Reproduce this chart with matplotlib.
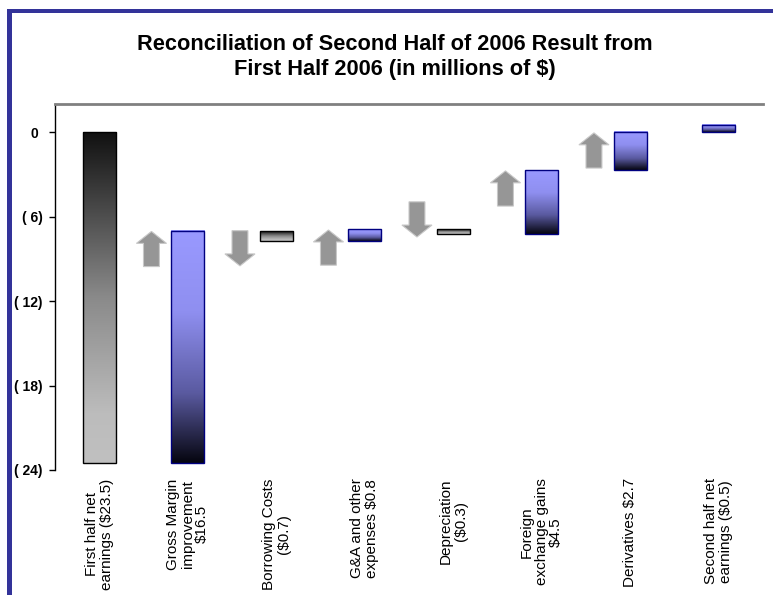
import numpy as np
import matplotlib
matplotlib.use("Agg")
import matplotlib.pyplot as plt
from matplotlib.colors import LinearSegmentedColormap
from matplotlib.patches import Rectangle, Polygon

plt.rcParams['font.family'] = ['Liberation Sans', 'DejaVu Sans']

# ---- data (millions of $) ----
categories = [
    "First half net\nearnings ($23.5)",
    "Gross Margin\nimprovement\n$16.5",
    "Borrowing Costs\n($0.7)",
    "G&A and other\nexpenses $0.8",
    "Depreciation\n($0.3)",
    "Foreign\nexchange gains\n$4.5",
    "Derivatives $2.7",
    "Second half net\nearnings ($0.5)",
]
first_half = -23.5
changes = [16.5, -0.7, 0.8, -0.3, 4.5, 2.7]
second_half_bar = 0.5
ytick_values = [0, -6, -12, -18, -24]
ytick_labels = ["0 ", "( 6)", "( 12)", "( 18)", "( 24)"]

# ---- layout ----
W, H = 773, 595
fig = plt.figure(figsize=(W / 100, H / 100), dpi=100)
ax = fig.add_axes([55 / W, 1 - 470 / H, (763 - 55) / W, (470 - 104) / H])

bar_w = 0.375
blue_cmap = LinearSegmentedColormap.from_list(
    "blue", [(0, "#9999ff"), (0.35, "#8f8ff0"), (0.7, "#5a5aa0"), (1, "#05050f")])
gray_cmap = LinearSegmentedColormap.from_list(
    "gray", [(0, "#111111"), (0.5, "#8a8a8a"), (0.85, "#bcbcbc"), (1, "#c0c0c0")])
grad = np.linspace(0, 1, 256).reshape(-1, 1)


def gradient_bar(x, y0, y1, cmap, edge):
    lo, hi = min(y0, y1), max(y0, y1)
    ax.imshow(grad, cmap=cmap, extent=[x - bar_w / 2, x + bar_w / 2, lo, hi],
              origin="upper", aspect="auto", interpolation="bicubic", zorder=2)
    ax.add_patch(Rectangle((x - bar_w / 2, lo), bar_w, hi - lo, fill=False,
                           edgecolor=edge, linewidth=1.0, zorder=3))


# opening total
gradient_bar(0, 0, first_half, gray_cmap, "black")

# step bars
running = first_half
ends = []
for i, d in enumerate(changes, start=1):
    start, end = running, running + d
    if d >= 0:
        gradient_bar(i, start, end, blue_cmap, "#000080")
    else:
        gradient_bar(i, start, end, gray_cmap, "black")
    ends.append((start, end))
    running = end

# closing bar
gradient_bar(len(categories) - 1, 0, second_half_bar, blue_cmap, "#000080")

# direction arrows beside each step
arrow_dx = -0.41
arrow_len = 2.5
head_len = 0.85
head_w = 0.34
shaft_w = 0.18
arrow_lift = [0, 0, 0, 1.95, 0, 0.0]
for i, ((start, end), d) in enumerate(zip(ends, changes), start=1):
    cx = i + arrow_dx
    if d >= 0:
        top = end + arrow_lift[i - 1] - 0.05
        bot = top - arrow_len
        pts = [(cx - shaft_w / 2, bot), (cx + shaft_w / 2, bot),
               (cx + shaft_w / 2, top - head_len), (cx + head_w / 2, top - head_len),
               (cx, top), (cx - head_w / 2, top - head_len),
               (cx - shaft_w / 2, top - head_len)]
    else:
        top = start + arrow_lift[i - 1]
        bot = top - arrow_len
        pts = [(cx - shaft_w / 2, top), (cx + shaft_w / 2, top),
               (cx + shaft_w / 2, bot + head_len), (cx + head_w / 2, bot + head_len),
               (cx, bot), (cx - head_w / 2, bot + head_len),
               (cx - shaft_w / 2, bot + head_len)]
    ax.add_patch(Polygon(pts, closed=True, facecolor="#969696",
                         edgecolor="#c8c8c8", linewidth=0.8, zorder=2))

# ---- axes styling ----
ax.set_xlim(-0.5, len(categories) - 0.5)
ax.set_ylim(-24, 2)
ax.spines["right"].set_visible(False)
ax.spines["bottom"].set_visible(False)
ax.spines["top"].set_color("#808080")
ax.spines["top"].set_linewidth(2.0)
ax.spines["left"].set_color("black")
ax.spines["left"].set_linewidth(1.0)
ax.spines["left"].set_bounds(-24, 2)

ax.set_yticks(ytick_values)
ax.set_yticklabels(ytick_labels, fontsize=10, fontweight="bold")
ax.tick_params(axis="y", length=4, width=1, pad=5, direction="out")

ax.set_xticks(range(len(categories)))
ax.set_xticklabels(categories, rotation=90, ha="center", va="top",
                   multialignment="center", fontsize=11, linespacing=1.05)
ax.tick_params(axis="x", length=0, pad=6)

# ---- title ----
fig.text(395 / W, 1 - 50 / H, "Reconciliation of Second Half of 2006 Result from",
         ha="center", va="baseline", fontsize=15.7, fontweight="bold")
fig.text(395 / W, 1 - 75 / H, "First Half 2006 (in millions of $)",
         ha="center", va="baseline", fontsize=15.7, fontweight="bold")

# ---- page frame ----
frame = "#333399"
fig.add_artist(Rectangle((7 / W, 0), 5 / W, 1 - 9 / H, transform=fig.transFigure,
                         facecolor=frame, edgecolor="none", zorder=5))
fig.add_artist(Rectangle((7 / W, 1 - 13 / H), 1 - 7 / W, 4 / H, transform=fig.transFigure,
                         facecolor=frame, edgecolor="none", zorder=5))

fig.savefig("out.png", dpi=100)
